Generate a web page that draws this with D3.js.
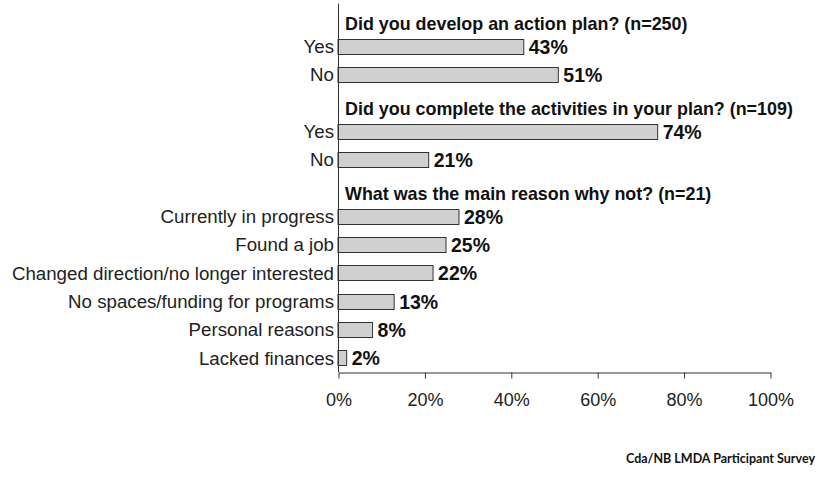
<!DOCTYPE html>
<html>
<head>
<meta charset="utf-8">
<script src="https://cdn.jsdelivr.net/npm/d3@7/dist/d3.min.js"></script>
<style>
  html, body { margin: 0; padding: 0; background: #fff; }
  svg { display: block; }
</style>
</head>
<body>
<svg id="chart" width="827" height="495"></svg>
<script>
// Survey sections: a heading followed by its answers
const sectionTitles = [
  "Did you develop an action plan? (n=250)",
  "Did you complete the activities in your plan? (n=109)",
  "What was the main reason why not? (n=21)"
];
const planLabels = ["Yes", "No"];
const planValues = [43, 51];
const completeLabels = ["Yes", "No"];
const completeValues = [74, 21];
const reasonLabels = [
  "Currently in progress",
  "Found a job",
  "Changed direction/no longer interested",
  "No spaces/funding for programs",
  "Personal reasons",
  "Lacked finances"
];
const reasonValues = [28, 25, 22, 13, 8, 2];
const xTicks = [0, 20, 40, 60, 80, 100];
const sourceNote = "Cda/NB LMDA Participant Survey";

// Flatten into rows; title rows occupy a slot without a bar
const rows = [];
[[planLabels, planValues], [completeLabels, completeValues], [reasonLabels, reasonValues]]
  .forEach(([labels, values], s) => {
    rows.push({ key: "t" + s, type: "title", text: sectionTitles[s] });
    labels.forEach((l, i) => rows.push({ key: s + "-" + i, type: "bar", label: l, value: values[i] }));
  });

const svg = d3.select("#chart");
const x0 = 338, x1 = 770, yTop = 3.6, yBottom = 372;
const font = "Liberation Sans, Arial, sans-serif";

const x = d3.scaleLinear().domain([0, 100]).range([x0, x1]);
const y = d3.scaleBand().domain(rows.map(r => r.key)).range([yTop, yBottom]).padding(0);
const bw = y.bandwidth();
const barH = 15;

const bars = rows.filter(r => r.type === "bar");
const titles = rows.filter(r => r.type === "title");

// Bars
svg.append("g").selectAll("rect").data(bars).join("rect")
  .attr("x", x(0))
  .attr("y", d => Math.round(y(d.key) + bw / 2 - barH / 2) + 0.5)
  .attr("width", d => x(d.value) - x(0))
  .attr("height", barH)
  .attr("fill", "#d0d0d0")
  .attr("stroke", "#333")
  .attr("stroke-width", 1);

// Value labels
svg.append("g").selectAll("text").data(bars).join("text")
  .attr("x", d => x(d.value) + 5)
  .attr("y", d => y(d.key) + bw / 2 + 7.5)
  .attr("font-family", font)
  .attr("font-weight", "bold")
  .attr("font-size", 19.5)
  .attr("fill", "#111")
  .text(d => d.value + "%");

// Category labels
svg.append("g").selectAll("text").data(bars).join("text")
  .attr("x", x0 - 4)
  .attr("y", d => y(d.key) + bw / 2 + 6.7)
  .attr("text-anchor", "end")
  .attr("font-family", font)
  .attr("font-size", 18.7)
  .attr("fill", "#222")
  .text(d => d.label);

// Section headings
svg.append("g").selectAll("text").data(titles).join("text")
  .attr("x", x0 + 7)
  .attr("y", d => y(d.key) + bw / 2 + 12.5)
  .attr("font-family", font)
  .attr("font-weight", "bold")
  .attr("font-size", 17.9)
  .attr("fill", "#111")
  .text(d => d.text);

// Vertical category axis line
svg.append("line")
  .attr("x1", x0 + 0.5).attr("x2", x0 + 0.5)
  .attr("y1", yTop).attr("y2", yBottom)
  .attr("stroke", "#333");

// Value axis
const xAxis = svg.append("g")
  .attr("transform", `translate(0.5,${yBottom + 0.5})`)
  .call(d3.axisBottom(x).tickValues(xTicks).tickSize(6).tickSizeOuter(0).tickFormat(d => d + "%"));
xAxis.select(".domain").attr("stroke", "#333");
xAxis.selectAll(".tick line").attr("stroke", "#333");
xAxis.selectAll(".tick text")
  .attr("y", 21)
  .attr("font-family", font)
  .attr("font-size", 18)
  .attr("fill", "#222");

// Source note
svg.append("text")
  .attr("x", 815)
  .attr("y", 463)
  .attr("text-anchor", "end")
  .attr("font-family", "Lato, 'Open Sans', sans-serif")
  .attr("font-weight", "bold")
  .attr("font-size", 12.5)
  .attr("fill", "#111")
  .text(sourceNote);
</script>
</body>
</html>
